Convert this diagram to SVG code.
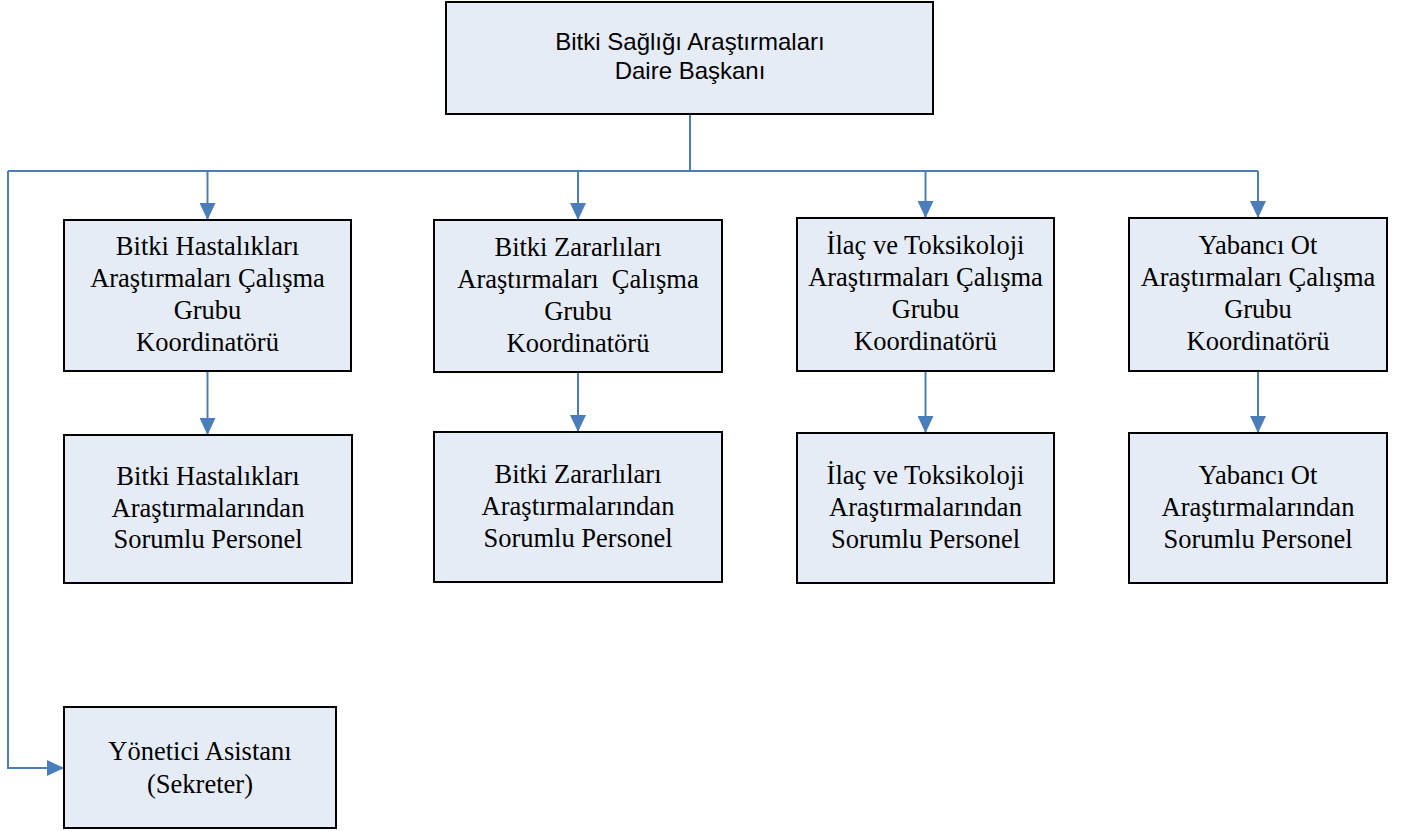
<svg xmlns="http://www.w3.org/2000/svg" width="1402" height="831" viewBox="0 0 1402 831">
  <style>
    .box { fill: #E6ECF6; stroke: #000000; stroke-width: 2; }
    .conn { fill: none; stroke: #4A7EBB; stroke-width: 2; }
    .tt { font-family: "Liberation Serif", "Times New Roman", serif; font-size: 26.5px; fill: #000000; text-anchor: middle; }
    .ts { font-family: "Liberation Sans", Arial, sans-serif; font-size: 24px; fill: #000000; text-anchor: middle; }
  </style>
  <defs>
    <marker id="arr" markerUnits="userSpaceOnUse" markerWidth="17" markerHeight="16" refX="17" refY="8" orient="auto">
      <path d="M0,0 L17,8 L0,16 z" fill="#4A7EBB"/>
    </marker>
  </defs>
  <rect width="1402" height="831" fill="#FFFFFF"/>

  <g id="connectors">
    <path class="conn" d="M690,114 L690,171"/>
    <path class="conn" d="M8,171 L1258,171"/>
    <path class="conn" d="M207.5,171 L207.5,220" marker-end="url(#arr)"/>
    <path class="conn" d="M578,171 L578,220" marker-end="url(#arr)"/>
    <path class="conn" d="M925.5,171 L925.5,218" marker-end="url(#arr)"/>
    <path class="conn" d="M1258,171 L1258,218" marker-end="url(#arr)"/>
    <path class="conn" d="M207.5,371 L207.5,435" marker-end="url(#arr)"/>
    <path class="conn" d="M578,372 L578,432" marker-end="url(#arr)"/>
    <path class="conn" d="M925.5,371 L925.5,433" marker-end="url(#arr)"/>
    <path class="conn" d="M1258,371 L1258,433" marker-end="url(#arr)"/>
    <path class="conn" d="M8,171 L8,768 L64,768" marker-end="url(#arr)"/>
  </g>

  <g id="head">
    <rect class="box" x="446" y="2" width="487" height="112"/>
    <text class="ts" x="690" y="50">Bitki Sağlığı Araştırmaları</text>
    <text class="ts" x="690" y="79">Daire Başkanı</text>
  </g>

  <g id="coord1">
    <rect class="box" x="64" y="220" width="287" height="151"/>
    <text class="tt" x="207.5" y="255">Bitki Hastalıkları</text>
    <text class="tt" x="207.5" y="287">Araştırmaları Çalışma</text>
    <text class="tt" x="207.5" y="319">Grubu</text>
    <text class="tt" x="207.5" y="351">Koordinatörü</text>
  </g>
  <g id="coord2">
    <rect class="box" x="434" y="220" width="288" height="152"/>
    <text class="tt" x="578" y="256">Bitki Zararlıları</text>
    <text class="tt" x="578" y="288" xml:space="preserve">Araştırmaları  Çalışma</text>
    <text class="tt" x="578" y="320">Grubu</text>
    <text class="tt" x="578" y="352">Koordinatörü</text>
  </g>
  <g id="coord3">
    <rect class="box" x="797" y="218" width="257" height="153"/>
    <text class="tt" x="925.5" y="254">İlaç ve Toksikoloji</text>
    <text class="tt" x="925.5" y="286">Araştırmaları Çalışma</text>
    <text class="tt" x="925.5" y="318">Grubu</text>
    <text class="tt" x="925.5" y="350">Koordinatörü</text>
  </g>
  <g id="coord4">
    <rect class="box" x="1129" y="218" width="258" height="153"/>
    <text class="tt" x="1258" y="254">Yabancı Ot</text>
    <text class="tt" x="1258" y="286">Araştırmaları Çalışma</text>
    <text class="tt" x="1258" y="318">Grubu</text>
    <text class="tt" x="1258" y="350">Koordinatörü</text>
  </g>

  <g id="staff1">
    <rect class="box" x="64" y="435" width="288" height="148"/>
    <text class="tt" x="208" y="485">Bitki Hastalıkları</text>
    <text class="tt" x="208" y="517">Araştırmalarından</text>
    <text class="tt" x="208" y="548">Sorumlu Personel</text>
  </g>
  <g id="staff2">
    <rect class="box" x="434" y="432" width="288" height="150"/>
    <text class="tt" x="578" y="483">Bitki Zararlıları</text>
    <text class="tt" x="578" y="515">Araştırmalarından</text>
    <text class="tt" x="578" y="547">Sorumlu Personel</text>
  </g>
  <g id="staff3">
    <rect class="box" x="797" y="433" width="257" height="150"/>
    <text class="tt" x="925.5" y="484">İlaç ve Toksikoloji</text>
    <text class="tt" x="925.5" y="516">Araştırmalarından</text>
    <text class="tt" x="925.5" y="548">Sorumlu Personel</text>
  </g>
  <g id="staff4">
    <rect class="box" x="1129" y="433" width="258" height="150"/>
    <text class="tt" x="1258" y="484">Yabancı Ot</text>
    <text class="tt" x="1258" y="516">Araştırmalarından</text>
    <text class="tt" x="1258" y="548">Sorumlu Personel</text>
  </g>

  <g id="secretary">
    <rect class="box" x="64" y="707" width="272" height="121"/>
    <text class="tt" x="200" y="760">Yönetici Asistanı</text>
    <text class="tt" x="200" y="793">(Sekreter)</text>
  </g>
</svg>
